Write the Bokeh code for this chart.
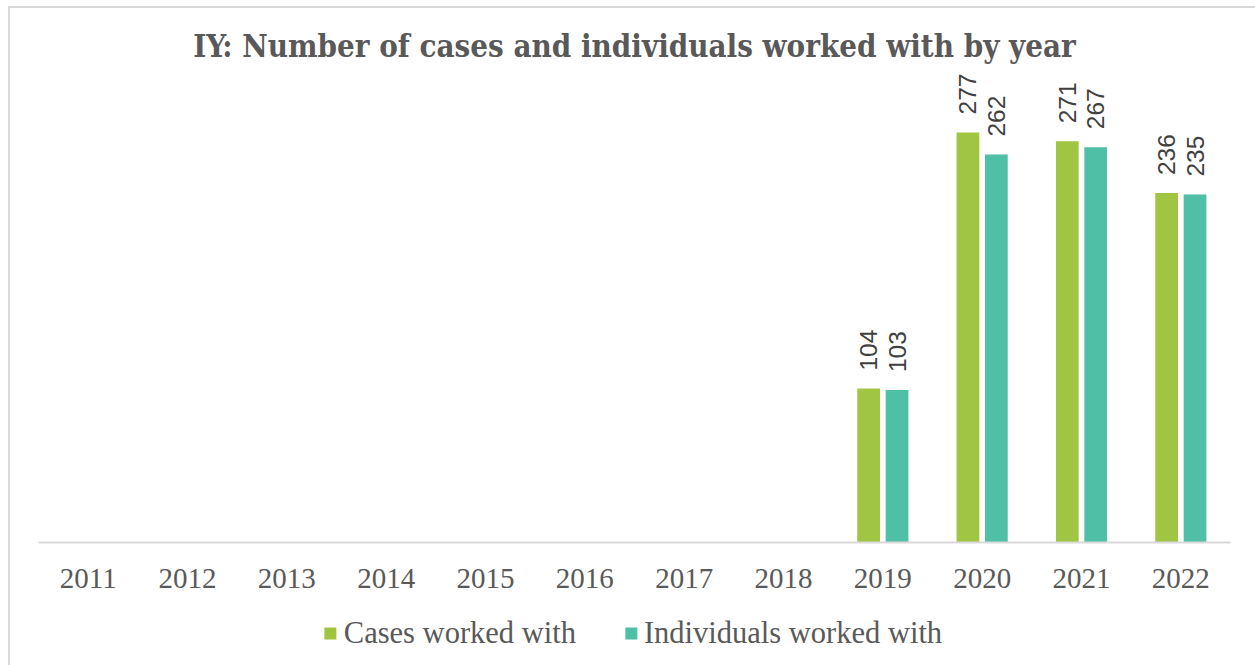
from bokeh.plotting import figure
from bokeh.layouts import column
from bokeh.models import ColumnDataSource, FactorRange, Legend, LegendItem, Title, Range1d
from bokeh.transform import dodge
from bokeh.core.properties import value
from bokeh.embed import file_html
from bokeh.resources import INLINE
import math

years = ["2011", "2012", "2013", "2014", "2015", "2016", "2017", "2018", "2019", "2020", "2021", "2022"]
cases = [None, None, None, None, None, None, None, None, 104, 277, 271, 236]
individuals = [None, None, None, None, None, None, None, None, 103, 262, 267, 235]
series_names = ["Cases worked with", "Individuals worked with"]
title_text = "IY: Number of cases and individuals worked with by year"

GREEN = "#9FC543"
TEAL = "#4FBFA5"
TEXT = "#595959"

def clean(v):
    return [float("nan") if x is None else x for x in v]

def labels(v):
    return ["" if x is None else str(x) for x in v]

src = ColumnDataSource(dict(
    year=years,
    cases=clean(cases),
    individuals=clean(individuals),
    cases_lbl=labels(cases),
    ind_lbl=labels(individuals),
))

p = figure(
    x_range=FactorRange(*years, range_padding=0),
    y_range=(0, 321.5),
    frame_width=1192, frame_height=476,
    min_border_left=28, min_border_right=25,
    min_border_top=58, min_border_bottom=66,
    output_backend="svg", toolbar_location=None,
)
p.outline_line_color = None
p.grid.visible = False
p.yaxis.visible = False

p.title = Title(text=title_text, align="center", text_font="DejaVu Serif Condensed",
                text_font_style="bold", text_font_size="31px", text_color=TEXT,
                standoff=6)

bw = 0.229
off = 0.143
p.vbar(x=dodge("year", -off, range=p.x_range), top="cases", width=bw, source=src,
       fill_color=GREEN, line_color=None)
p.vbar(x=dodge("year", off, range=p.x_range), top="individuals", width=bw, source=src,
       fill_color=TEAL, line_color=None)

for col, lbl, o in (("cases", "cases_lbl", -off), ("individuals", "ind_lbl", off)):
    p.text(x=dodge("year", o, range=p.x_range), y=col, text=lbl, source=src,
           angle=math.pi / 2, text_align="left", text_baseline="middle",
           y_offset=-18, text_font=value("Liberation Sans"), text_font_size="24.5px",
           text_color="#404040")

ax = p.xaxis[0]
ax.axis_line_color = "#d9d9d9"
ax.axis_line_width = 2
ax.major_tick_line_color = None
ax.minor_tick_line_color = None
ax.major_label_text_font = "Liberation Serif"
ax.major_label_text_font_size = "29px"
ax.major_label_text_color = TEXT
ax.major_label_standoff = 20

# legend strip
lg = figure(
    x_range=Range1d(0, 1), y_range=Range1d(0, 1),
    frame_width=1229, frame_height=49,
    min_border_left=16, min_border_right=0, min_border_top=0, min_border_bottom=8,
    output_backend="svg", toolbar_location=None,
)
lg.outline_line_color = None
lg.grid.visible = False
lg.axis.visible = False
nan = float("nan")
d1 = lg.vbar(x=[nan], top=[nan], width=0.1, fill_color=GREEN, line_color=None)
d2 = lg.vbar(x=[nan], top=[nan], width=0.1, fill_color=TEAL, line_color=None)
legend = Legend(items=[LegendItem(label=series_names[0], renderers=[d1]),
                       LegendItem(label=series_names[1], renderers=[d2])],
                orientation="horizontal", location="center",
                label_text_font="Liberation Serif", label_text_font_size="30.5px",
                label_text_color=TEXT, glyph_width=15, glyph_height=15,
                spacing=47, label_standoff=6, border_line_color=None,
                background_fill_alpha=0, padding=0, margin=0)
lg.add_layout(legend, "center")

layout = column(p, lg, spacing=0, margin=(6, 0, 0, 8),
                styles={"border-left": "2px solid #d9d9d9", "border-top": "2px solid #d9d9d9"})

open("out.html", "w").write(file_html(layout, INLINE))
